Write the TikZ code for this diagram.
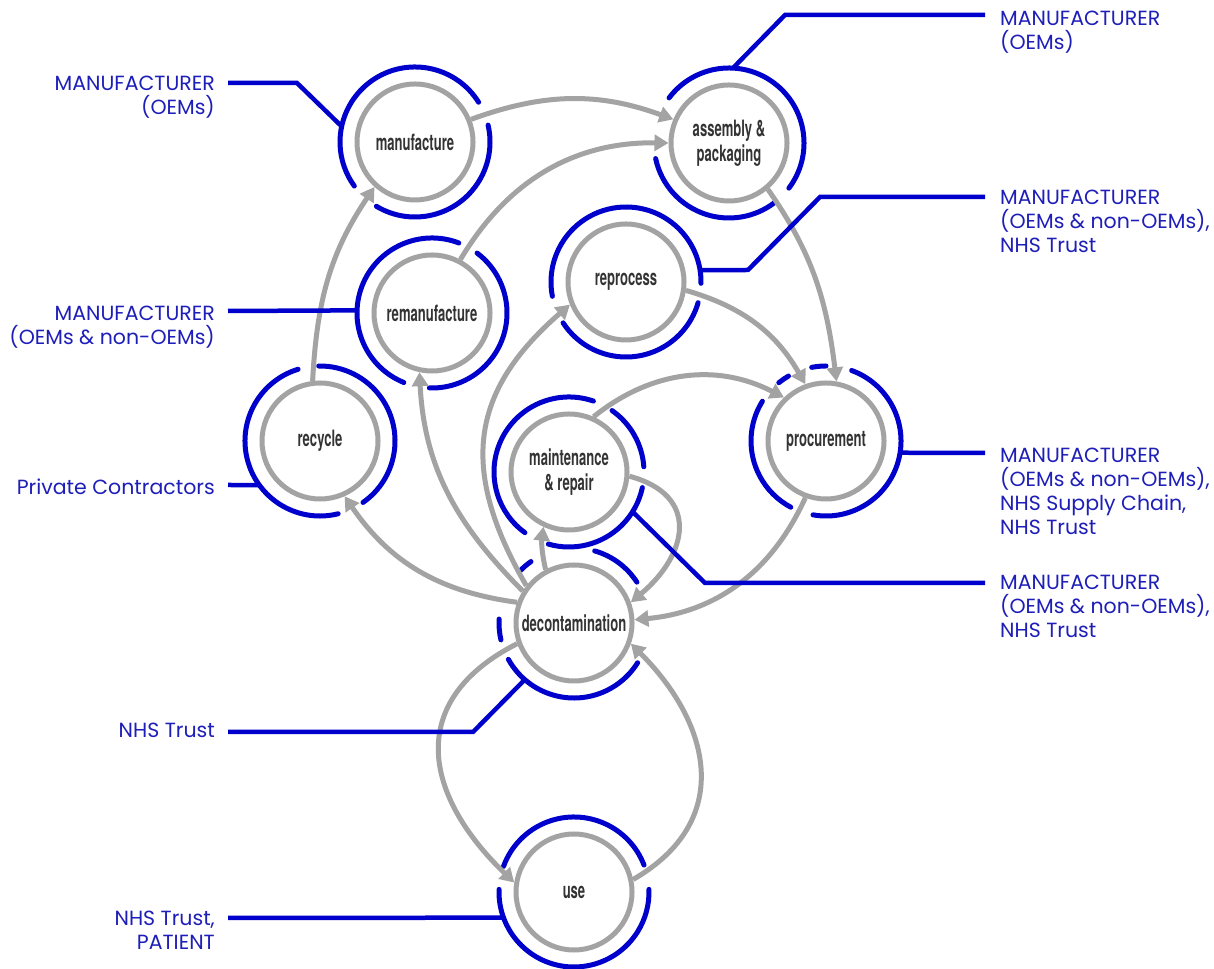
\documentclass[tikz,border=0pt]{standalone}
\usepackage{fontspec}
\newfontfamily\lblfont[FakeStretch=0.58]{TeX Gyre Heros}
\newfontfamily\txtfont{Poppins}
\usetikzlibrary{arrows.meta,calc}
\definecolor{ringblue}{RGB}{0,0,204}
\definecolor{txtblue}{RGB}{30,30,185}
\definecolor{flowgray}{RGB}{163,163,163}
\definecolor{lblgray}{RGB}{51,51,51}
\newcommand\ringarc[3]{\draw[ring] ($(#1.center)+(#2:75)$) arc[start angle=#2, end angle=#3, radius=75];}
\begin{document}
\begin{tikzpicture}[x=1pt,y=1pt,
  stage/.style={circle, draw=flowgray, line width=5pt, minimum size=116pt, inner sep=0pt,
    font=\lblfont\bfseries\fontsize{22.5}{25}\selectfont, text=lblgray, align=center},
  ring/.style={draw=ringblue, line width=5pt, line cap=round},
  lead/.style={draw=ringblue, line width=4.5pt},
  flow/.style={draw=flowgray, line width=5pt, -{Triangle[width=16pt,length=14pt]}},
  roleL/.style={font=\txtfont\fontsize{20.5}{24}\selectfont, text=txtblue, align=right, inner sep=0pt, anchor=north east},
  roleR/.style={font=\txtfont\fontsize{20.5}{24}\selectfont, text=txtblue, align=left, inner sep=0pt, anchor=north west}]
\useasboundingbox (0,0) rectangle (1214,968);
\fill[white] (0,0) rectangle (1214,968);

% stages
\node[stage] (M)  at (415,826) {manufacture};
\node[stage] (A)  at (729,825) {assembly \&\\packaging};
\node[stage] (R)  at (626,686) {reprocess};
\node[stage] (Rm) at (432,655) {remanufacture};
\node[stage] (Rc) at (320,527) {recycle};
\node[stage] (Mt) at (569,496) {maintenance\\\& repair};
\node[stage] (P)  at (826,527) {procurement};
\node[stage] (D)  at (574,345) {decontamination};
\node[stage] (U)  at (574,76)  {use};

% blue rings
\ringarc{M}{32}{216} \ringarc{M}{239}{373}
\ringarc{A}{-37}{143} \ringarc{A}{192}{307}
\ringarc{R}{-1}{191} \ringarc{R}{213}{344}
\ringarc{Rm}{69}{248} \ringarc{Rm}{268}{413}
\ringarc{Rc}{107}{284} \ringarc{Rc}{-55}{91}
\ringarc{Mt}{71}{234} \ringarc{Mt}{4}{55} \ringarc{Mt}{254}{348}
\ringarc{P}{-100}{70} \ringarc{P}{148}{242} \ringarc{P}{90}{101} \ringarc{P}{120}{129}
\ringarc{D}{209}{328} \ringarc{D}{177}{193} \ringarc{D}{125}{136} \ringarc{D}{33}{74}
\ringarc{U}{21}{160} \ringarc{U}{178}{362}

% flows
\draw[flow] (M.22) to[bend left=20] (A.157);
\draw[flow] (Rm.62) to[bend left=30] (A.180);
\draw[flow] (A.-50) to[out=-55,in=97] (P.80);
\draw[flow] (R.-8) to[bend left=22] (P.110);
\draw[flow] (Mt.66) to[bend left=33] (P.134);
\draw[flow] (P.250) to[bend left=30] (D.3);
\draw[flow] (Mt.-4) to[out=-15,in=40,looseness=1.5] (D.20);
\draw[flow] (D.118) to[bend left=10] (Mt.245);
\draw[flow] (D.160) to[bend left=24] (Rc.294);
\draw[flow] (D.148) to[out=135,in=-87] (Rm.258);
\draw[flow] (D.142) to[out=120,in=221,looseness=1.2] (R.202);
\draw[flow] (Rc.97) to[out=87,in=236] (M.228);
\draw[flow] (U.12) to[out=30,in=-45,looseness=1.25] (D.-20);
\draw[flow] (D.200) to[out=207,in=136,looseness=1.35] (U.171);

% role labels
\node[roleL] (tM)  at (215,892.5) {MANUFACTURER\\(OEMs)};
\node[roleL] (tRm) at (215,662.5) {MANUFACTURER\\(OEMs \& non-OEMs)};
\node[roleL] (tRc) at (215,489.5) {Private Contractors};
\node[roleL] (tD)  at (215,245.5) {NHS Trust};
\node[roleL] (tU)  at (215,57.5)  {NHS Trust,\\PATIENT};
\node[roleR] (tA)  at (1000,957.5) {MANUFACTURER\\(OEMs)};
\node[roleR] (tR)  at (1000,778.5) {MANUFACTURER\\(OEMs \& non-OEMs),\\NHS Trust};
\node[roleR] (tP)  at (1000,520.5) {MANUFACTURER\\(OEMs \& non-OEMs),\\NHS Supply Chain,\\NHS Trust};
\node[roleR] (tMt) at (1000,393.5) {MANUFACTURER\\(OEMs \& non-OEMs),\\NHS Trust};

% leader lines
\coordinate (cM) at (297,885);  \coordinate (eM) at (228,885);
\draw[lead] ($(M.center)+(168:75)$) -- (cM) -- (eM);
\coordinate (eRm) at (228,657);
\draw[lead] ($(Rm.center)+(178:75)$) -- (eRm);
\coordinate (eRc) at (228,483);
\draw[lead] ($(Rc.center)+(216:75)$) -- (eRc);
\coordinate (cD) at (473,236);  \coordinate (eD) at (228,236);
\draw[lead] ($(D.center)+(229:75)$) -- (cD) -- (eD);
\coordinate (eU) at (228,50);
\draw[lead] ($(U.center)+(200:75)$) -- (eU);
\coordinate (cA) at (785,953);  \coordinate (eA) at (985,953);
\draw[lead] ($(A.center)+(87:75)$) -- (cA) -- (eA);
\coordinate (cR1) at (748,698); \coordinate (cR2) at (820,771); \coordinate (eR) at (985,771);
\draw[lead] ($(R.center)+(9:75)$) -- (cR1) -- (cR2) -- (eR);
\coordinate (eP) at (985,515);
\draw[lead] ($(P.center)+(-9:75)$) -- (eP);
\coordinate (cMt) at (705,385); \coordinate (eMt) at (985,385);
\draw[lead] ($(Mt.center)+(-32:75)$) -- (cMt) -- (eMt);
\end{tikzpicture}
\end{document}
